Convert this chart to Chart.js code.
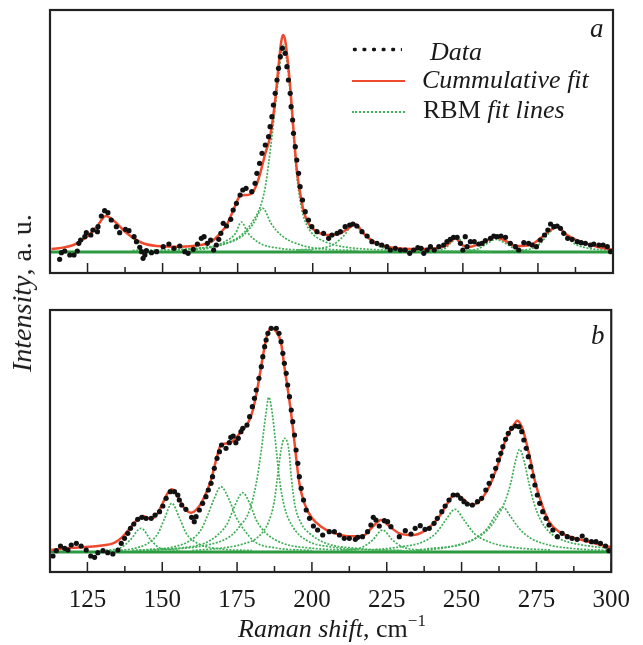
<!DOCTYPE html>
<html>
<head>
<meta charset="utf-8">
<script src="https://cdn.jsdelivr.net/npm/chart.js@4.4.1/dist/chart.umd.js"></script>
<style>
  body { margin: 0; background: #fff; }
  #figure { position: relative; width: 643px; height: 645px; font-family: "Liberation Serif", "Times New Roman", serif; color: #1a1a1a; }
  #figure canvas { position: absolute; left: 0; }
  .txt { position: absolute; white-space: nowrap; line-height: 1; font-size: 26px; }
  .sample { position: absolute; }
</style>
</head>
<body>
<div id="figure">
  <canvas id="panelA" width="643" height="285" style="top:0"></canvas>
  <canvas id="panelB" width="643" height="355" style="top:290px"></canvas>

  <div class="txt" style="left:590px;top:15px;font-size:27px"><i>a</i></div>
  <div class="txt" style="left:591px;top:322px;font-size:27px"><i>b</i></div>

  <div class="sample" style="left:350px;top:47px;width:52px;height:5px;background:radial-gradient(circle, #111 1.7px, transparent 2.2px) 0 0/9.6px 5px repeat-x"></div>
  <div class="txt" style="left:430px;top:39px"><i>Data</i></div>
  <div class="sample" style="left:352px;top:80px;width:53px;height:0;border-top:2.5px solid #f04a2e"></div>
  <div class="txt" style="left:422px;top:67px"><i>Cummulative fit</i></div>
  <div class="sample" style="left:352px;top:111px;width:53px;height:0;border-top:2px dotted #43b05a"></div>
  <div class="txt" style="left:423px;top:97px">RBM <i>fit lines</i></div>

  <div class="txt" style="left:22px;top:293px;font-size:28px;transform:translate(-50%,-50%) rotate(-90deg)"><i>Intensity</i>, a. u.</div>
  <div class="txt" style="left:332px;top:616px;transform:translateX(-50%)"><i>Raman shift</i>, cm<span style="font-size:17px;position:relative;top:-11px">&minus;1</span></div>
</div>
<script>
const xMin = 112.5
const xMax = 300
const majorTicks = [125, 150, 175, 200, 225, 250, 275, 300]
const minorTicks = [137.5, 162.5, 187.5, 212.5, 237.5, 262.5, 287.5]
const baseline = [[112.5, 0], [300, 0]]

// panel a
const dataA = [
  [115.7, -7.3], [116.3, -0.7], [117.4, 1], [119.1, -3], [120.5, -3], [121.6, 1], [122.1, 8.7], [122.7, 12],
  [124.1, 15.3], [124.6, 19.3], [126.1, 17], [126.8, 22], [128.3, 20.3], [128.5, 25.3], [129.6, 36], [130.7, 41.3],
  [131.8, 39.3], [132.9, 32], [134.6, 25.3], [135.7, 19.3], [137.6, 22.7], [138.8, 21.3], [140.5, 15.3], [141.3, 10.3],
  [142.4, 4.7], [143, 0.3], [143.5, -6.3], [144.1, -3], [144.6, 1.3], [146.3, -0.7], [148, 0.3], [150.2, 5.3],
  [152.1, 8], [153.8, 3.7], [155.7, 6], [157.4, 0.3], [158.5, -1.3], [160.2, 2.7], [161.6, 8], [162.9, 13.7],
  [163.8, 15.3], [164.9, 8.7], [166, 12], [167, 2], [167.9, 7], [168.7, 12.7], [169.4, 18.7], [170.2, 28.7],
  [171.3, 26], [172.7, 32.7], [173.5, 42], [174.6, 48.7], [175.8, 57], [176.7, 62], [177.8, 63.7], [179.7, 60.3],
  [180.8, 68.7], [181.4, 78.7], [182.3, 88.7], [183.1, 98.7], [184.2, 107], [185.3, 115.3], [185.8, 125.3], [186.4, 135.3],
  [186.9, 147], [187.5, 158.7], [188.1, 172], [188.6, 183.7], [189.2, 195.3], [189.9, 203.7], [190.8, 198.7], [191.4, 185.3],
  [191.9, 172], [192.5, 158.7], [192.8, 145.3], [193.3, 132], [193.6, 118.7], [194.2, 105.3], [194.7, 92], [195.3, 78.7],
  [195.8, 65.3], [196.6, 52], [197.5, 40.3], [198.6, 32], [199.7, 25.3], [201.4, 20.3], [203.6, 18.7], [205.3, 13.7],
  [206.4, 17], [208.1, 18.7], [209.2, 20.3], [210.8, 25.3], [212.3, 27], [213.4, 28], [214.7, 26], [216.4, 20.3],
  [218.1, 16], [219.7, 10.3], [221.4, 8.7], [223, 7], [224.7, 5.3], [225.8, 2], [227.5, 3.7], [229.2, 2],
  [230.8, 2], [232.3, -1.3], [233.6, 2], [235, 4.3], [236.1, 3.7], [237, -1.3], [238.1, 2], [239.2, 5.3],
  [240.5, 2], [242, 5.3], [243.6, 7], [244.7, 10.3], [245.8, 12.7], [246.9, 14.7], [248.1, 14.7], [249.2, 8.7],
  [250, 2], [250.8, 15.3], [251.4, 5.3], [252.5, 10.3], [253.8, 10.3], [255.3, 8], [256.4, 8.7], [257.5, 11.3],
  [259.2, 13.7], [260.3, 16], [261.4, 15.3], [262.7, 16], [264.2, 14.7], [265.8, 8.7], [267.5, 5.3], [268.6, 2],
  [270.3, 9.3], [271.9, 8.7], [273.1, 7], [274.5, 5.3], [275.8, 12], [277.2, 17], [278.3, 22], [279.2, 28],
  [280.3, 25.3], [281.4, 26], [282.5, 23.7], [283.6, 18.7], [284.9, 13.7], [286.4, 12.7], [288.1, 10.3], [289.4, 9.3],
  [290.8, 8.7], [292.5, 7], [293.6, 8], [295.3, 7], [296.7, 7], [298.1, 5.3], [299.2, 0.3]
]
const fitA = [
  [113, 3], [115.3, 3.7], [120.3, 7], [124.7, 15], [128, 25], [131.1, 36], [134.2, 30], [138, 19],
  [142.5, 10], [148, 6], [155.8, 5.3], [162.5, 7], [166, 10], [169.2, 18.7], [171.5, 28], [173.6, 42],
  [175.8, 56], [178.1, 57], [179.7, 58.7], [180.8, 63.7], [182.5, 78.7], [184.2, 98.7], [185.8, 115.3], [187.5, 152],
  [188.6, 185.3], [189.5, 210], [190.1, 217], [190.8, 212], [191.4, 198.7], [192.5, 165.3], [193.6, 122], [194.7, 82],
  [196.4, 48.7], [198, 32], [201.4, 20.3], [205.8, 17], [209.2, 18.7], [211.5, 23], [214.2, 27.7], [216.9, 18.7],
  [221.4, 8.7], [228, 3.7], [234.7, 3], [241.4, 3.7], [244.7, 7], [247.5, 13.7], [249.7, 7], [252.5, 5.3],
  [257, 10.3], [260.8, 14.7], [263.6, 12], [268, 6], [272.5, 7], [275.8, 13.7], [279.2, 22], [281.4, 25.3],
  [284.7, 17], [289.2, 10.3], [294.7, 5.3], [300, 2.5]
]
const rbmA1 = [[160, 2], [165, 3.7], [170.5, 10], [174.3, 18.7], [176.2, 30], [178.5, 18.7], [182.4, 8.7], [189, 3.7], [200, 1.5]]
const rbmA2 = [[155, 2], [165, 4.7], [171.5, 8.7], [177, 17], [180.3, 28.7], [183.4, 43.7], [186.1, 28.7], [189.4, 17], [196, 7], [205, 2.7], [215, 1.5]]
const rbmA3 = [
  [140, 1.5], [162.5, 4], [172.5, 10.3], [176.9, 18.7], [180.3, 32], [182.5, 45], [184.2, 65], [185.3, 88.7],
  [186.4, 115], [187.5, 145], [188.6, 175], [189.9, 205.3], [190.3, 207], [191.4, 190], [192.5, 158], [193.6, 115],
  [194.7, 76], [196.4, 42], [198, 27], [200, 18], [203.6, 11], [208, 6.5], [215, 3.5], [230, 1.5], [260, 0.5]
]
const rbmA4 = [[195, 2], [205.8, 6], [210, 15], [213.6, 27], [216.9, 18.7], [220.2, 8.7], [225.8, 2.7], [235, 1]]
const rbmA5 = [[238, 1], [243.6, 3], [246.3, 10], [248.1, 15], [249.6, 10], [251.4, 3], [256, 1]]
const rbmA6 = [[250, 1], [254.9, 3], [258.2, 8.7], [261, 12.7], [263.8, 9.3], [267.5, 3], [272, 1]]
const rbmA7 = [[265, 1], [272.5, 3], [275.8, 8.7], [278.6, 18.7], [281.4, 24.7], [284.2, 17], [287, 8.7], [291.4, 4], [299.2, 1.5]]

// panel b
const dataB = [
  [113.5, -4], [114.6, 1.3], [116, 6], [117.4, 3.7], [118.5, 2], [119.6, 7], [121.3, 8.7], [122.9, 6],
  [124.6, 2], [126.1, -4], [127.4, -5.3], [128.5, -0.7], [130.2, 1.3], [131.8, -0.7], [133.5, -2], [135.2, 2],
  [136.3, 8.7], [137.4, 13.7], [138.5, 18.7], [139.4, 23.7], [140.5, 28], [141.8, 32.7], [143.2, 34.7], [144.6, 33.7],
  [146.3, 33.7], [147.6, 37], [149.1, 40.3], [150.2, 46], [151.3, 53.7], [152.7, 60.3], [154.1, 60.3], [155.2, 57],
  [155.7, 52], [156.5, 47], [157.9, 42.7], [159.8, 34.7], [160.7, 30.3], [161.3, 35.3], [162.4, 42], [163.5, 48.7],
  [164.6, 55.3], [165.4, 62], [166.3, 68.7], [166.8, 75.3], [167.4, 83.7], [168.3, 93.7], [169.1, 100.3], [169.8, 107],
  [171.3, 103.7], [172.4, 109.3], [172.9, 114.7], [173.7, 116], [174.6, 109.3], [175.4, 113.7], [176.3, 120.3], [176.9, 123.7],
  [178.3, 127], [179.2, 135.3], [180.1, 145.3], [180.8, 153.7], [181.4, 162], [182.3, 173.7], [183.1, 185.3], [183.6, 195.3],
  [184.2, 205.3], [184.7, 212], [185.3, 218.7], [186.4, 223.7], [188.1, 223.7], [189, 218.7], [189.7, 210.3], [190.3, 198.7],
  [190.8, 188.7], [191.4, 178.7], [191.9, 167], [192.5, 155.3], [193.1, 142], [193.6, 130.3], [194.2, 117], [194.7, 102],
  [195.3, 88.7], [195.8, 75.3], [196.4, 63.7], [197.2, 52], [198.1, 42], [199.2, 33.7], [200.5, 26], [201.9, 22],
  [203.6, 17], [205.8, 20.3], [207.5, 20.3], [209.2, 17], [210.8, 13.7], [212.5, 13.7], [214.5, 12.7], [215.3, 14.7],
  [216.9, 15.3], [218.6, 20.3], [219.7, 27], [220.5, 34.7], [221.4, 32], [222.5, 26], [224.2, 31.3], [225.3, 30.3],
  [226.4, 25.3], [229.2, 15.3], [231.2, 21.3], [233.1, 18], [234.5, 23.7], [236.2, 26.3], [237.8, 22.7], [239.2, 23.7],
  [240.8, 28.7], [241.9, 33.7], [243.4, 40.3], [244.5, 46], [245.8, 52], [247.2, 57], [248.6, 57], [249.7, 53.7],
  [250.8, 50.3], [251.9, 48], [253.6, 47], [255.3, 50.3], [256.7, 53.7], [258.1, 62], [259.2, 68.7], [260.3, 76],
  [261.4, 83.7], [262.3, 92], [263.1, 98.7], [263.8, 105.3], [264.7, 112.7], [265.6, 118.7], [266.7, 123.7], [268.1, 126],
  [269.2, 125.3], [270.1, 120.3], [270.8, 112], [271.6, 103.7], [272.3, 95.3], [273.1, 85.3], [273.8, 76], [274.5, 67],
  [275.3, 57], [276.1, 48.7], [277.1, 40.3], [278.2, 33.7], [279.2, 27], [280.5, 22], [282, 15.3], [283.6, 18.7],
  [285.3, 15.3], [286.9, 13.7], [288.6, 12.7], [290.3, 16], [291.6, 12], [293.4, 10.3], [294.9, 10.3], [296.4, 8.7],
  [298.1, 6], [299.2, 1.3]
]
const fitB = [
  [112.9, 2], [117.4, 3.7], [122.9, 4.7], [128.5, 6], [134.1, 9.3], [136.8, 15.3], [139.6, 25.3], [141.8, 32.7],
  [143.5, 36], [145.2, 33.7], [147.4, 34.7], [149.6, 45.3], [151.8, 58.7], [153.2, 62.7], [155.2, 55.3], [157.4, 43.7],
  [159.6, 39.3], [161.8, 43.7], [164.1, 55.3], [166.3, 72], [168, 92], [169.6, 107], [171.8, 108.7], [174.1, 112],
  [176.3, 120.3], [178.6, 128.7], [180.3, 142], [181.9, 165.3], [183.6, 195.3], [184.9, 215.3], [186.4, 223.7], [188.1, 220.3],
  [189.7, 208.7], [190.8, 185.3], [192.3, 155.3], [193.6, 125.3], [194.7, 95.3], [195.8, 68.7], [197.5, 48.7], [199.7, 35.3],
  [203.1, 25.3], [207, 19.3], [212.5, 15.8], [216.9, 16], [220.3, 25.3], [223.1, 32], [225.8, 26], [229.2, 18.7],
  [233.6, 17], [238.1, 22], [242.5, 35.3], [245.3, 48.7], [247.8, 57.7], [250.3, 53.7], [253.1, 47], [255.8, 50.3],
  [259.2, 65.3], [261.9, 85.3], [264.7, 112], [267.1, 125.3], [268.6, 131.3], [270.3, 123.7], [272.5, 98.7], [274.7, 68.7],
  [277.1, 45.3], [279.2, 30.3], [282.5, 20.3], [286.9, 14.7], [292.5, 10.3], [299.2, 5.3], [300, 5]
]
const rbmB1 = [[130, 1.5], [136.1, 4.3], [139.3, 12], [142.9, 23.7], [146.2, 12], [149, 4.3], [156, 1.5]]
const rbmB2 = [[135, 1.5], [139.6, 3], [145.2, 8.7], [148.6, 18.7], [150.8, 33.7], [153.2, 48.7], [155.8, 33.7], [158, 18.7], [161.8, 8.7], [169.6, 3], [180, 1.5]]
const rbmB3 = [[140, 1.5], [145.2, 2.5], [154.1, 5.3], [159.6, 12], [162.9, 22], [165.2, 37], [167.4, 53.7], [169.6, 65.3], [172.4, 52], [174.6, 35.3], [177.4, 22], [181, 10], [188, 4], [200, 1.5]]
const rbmB4 = [[145, 1.5], [156.2, 4], [164.1, 8.7], [168.5, 17], [171.8, 28.7], [174.1, 45.3], [176.9, 59.3], [179.2, 48.7], [181.4, 32], [184.7, 18.7], [190.3, 8.7], [200.3, 3.7], [215, 1.5]]
const rbmB5 = [
  [140, 1.5], [150, 2.5], [165, 7], [172.5, 15.3], [175.8, 25.3], [179.2, 42], [181.4, 68.7], [183.1, 102],
  [184.5, 135.3], [185.6, 154.7], [186.9, 135.3], [188.1, 102], [189.2, 72], [190.8, 45.3], [193.6, 25.3], [198, 12],
  [205.8, 5.3], [220, 2], [240, 1]
]
const rbmB6 = [
  [160, 1.5], [170, 4], [177, 8], [182, 15], [185.5, 30], [187.4, 50], [188.5, 75], [189.7, 102],
  [190.8, 113.7], [192.3, 102], [193.1, 75.3], [194.2, 48.7], [196.4, 28.7], [199.2, 18.7], [204.7, 8.7], [214.7, 3.7], [230, 1.5]
]
const rbmB7 = [[210, 1.5], [217, 5], [220.3, 12], [223.6, 22], [226.9, 12], [230.3, 5], [237, 1.5]]
const rbmB8 = [[220, 2], [229.2, 5], [237, 10], [241.4, 18.7], [244.7, 32], [247.8, 42.7], [250.8, 32], [254.2, 18.7], [259.2, 10], [268.1, 4.3], [280, 2]]
const rbmB9 = [[235, 2], [240.3, 3.7], [249.2, 7], [254.7, 13.7], [258.6, 23.7], [261.4, 37], [263.8, 44.7], [266.4, 35.3], [269.2, 23.7], [273.1, 13.7], [279.2, 7], [290.3, 2.7], [300, 1.5]]
const rbmB10 = [
  [235, 1.5], [245.8, 5], [254.7, 13.7], [259.2, 23.7], [261.9, 35.3], [264.7, 52], [266.4, 68.7], [268.1, 92],
  [269.4, 102.7], [270.8, 92], [272.5, 68.7], [274.2, 48.7], [276.4, 32], [279.2, 20.3], [283.6, 12], [290.3, 7], [299.2, 3.7]
]

const pts = (pairs) => pairs.map(([x, y]) => ({ x, y }))

function panelDatasets(data, fit, rbm) {
  return [
    { data: pts(data), showLine: false, pointRadius: 2.6, pointBackgroundColor: "#111", pointBorderWidth: 0 },
    { data: pts(fit), borderColor: "#f04a2e", borderWidth: 2.5, pointRadius: 0, cubicInterpolationMode: "monotone" },
    ...rbm.map((curve) => ({
      data: pts(curve),
      borderColor: "#3fae56",
      borderWidth: 1.7,
      borderDash: [2, 1.5],
      pointRadius: 0,
      cubicInterpolationMode: "monotone"
    })),
    { data: pts(baseline), borderColor: "#2d9a41", borderWidth: 3, pointRadius: 0 }
  ]
}

// box round the panel, with inward ticks at the bottom
const framePlugin = {
  id: "frame",
  afterDatasetsDraw(chart) {
    const { ctx, chartArea: a } = chart
    const x = chart.scales.x
    ctx.save()
    ctx.strokeStyle = "#222"
    ctx.lineWidth = 1.5
    const tick = (v, len) => {
      const px = x.getPixelForValue(v)
      ctx.beginPath()
      ctx.moveTo(px, a.bottom)
      ctx.lineTo(px, a.bottom - len)
      ctx.stroke()
    }
    majorTicks.forEach((v) => tick(v, 10))
    minorTicks.forEach((v) => tick(v, 6))
    ctx.lineWidth = 2.2
    ctx.strokeRect(a.left, a.top, a.right - a.left, a.bottom - a.top)
    ctx.restore()
  }
}

function makePanel(id, data, fit, rbm, yMin, yMax, padding, showX) {
  return new Chart(document.getElementById(id), {
    type: "line",
    data: { datasets: panelDatasets(data, fit, rbm) },
    options: {
      responsive: false,
      animation: false,
      layout: { padding },
      plugins: { legend: { display: false }, tooltip: { enabled: false } },
      scales: {
        x: {
          type: "linear",
          min: xMin,
          max: xMax,
          display: showX,
          grid: { display: false, drawTicks: false },
          border: { display: false },
          afterBuildTicks: (scale) => { scale.ticks = majorTicks.map((value) => ({ value })) },
          afterFit: (scale) => { if (showX) scale.height = 73 },
          ticks: {
            autoSkip: false,
            maxRotation: 0,
            padding: 13,
            color: "#1a1a1a",
            font: { family: "'Liberation Serif', 'Times New Roman', serif", size: 25 }
          }
        },
        y: { display: false, min: yMin, max: yMax }
      }
    },
    plugins: [framePlugin]
  })
}

makePanel("panelA", dataA, fitA, [rbmA1, rbmA2, rbmA3, rbmA4, rbmA5, rbmA6, rbmA7], -21, 242,
  { left: 50, top: 10, right: 30, bottom: 12 }, false)
makePanel("panelB", dataB, fitB, [rbmB1, rbmB2, rbmB3, rbmB4, rbmB5, rbmB6, rbmB7, rbmB8, rbmB9, rbmB10], -20, 242,
  { left: 50, top: 20, right: 30, bottom: 0 }, true)
</script>
</body>
</html>
